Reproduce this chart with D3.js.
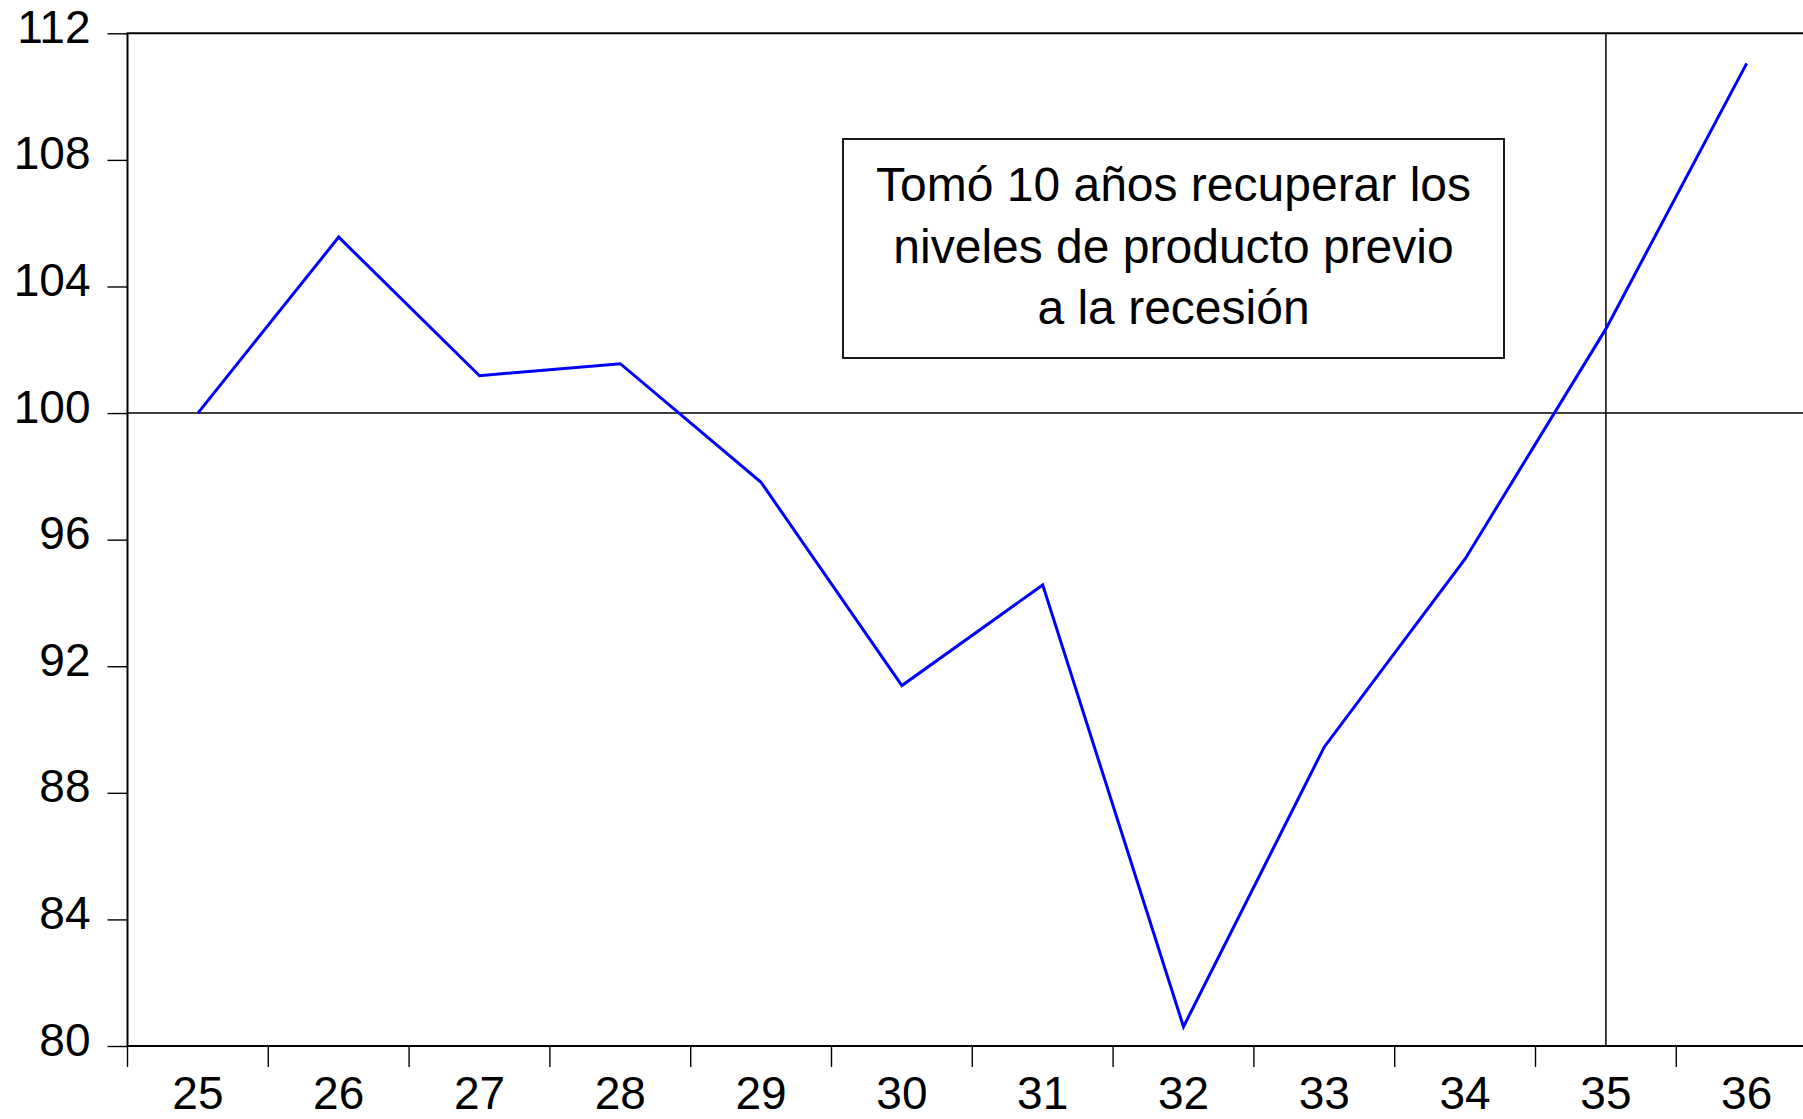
<!DOCTYPE html>
<html>
<head>
<meta charset="utf-8">
<script src="https://cdn.jsdelivr.net/npm/d3@7"></script>
<style>
  html, body { margin: 0; padding: 0; background: #fff; }
  svg { display: block; font-family: "Liberation Sans", Arial, sans-serif; }
</style>
</head>
<body>
<div id="chart"></div>
<script>
const years = ["25", "26", "27", "28", "29", "30", "31", "32", "33", "34", "35", "36"];
const producto = [100, 105.56, 101.18, 101.56, 97.81, 91.39, 94.57, 80.61, 89.45, 95.39, 102.66, 111.05];
const yTicks = [80, 84, 88, 92, 96, 100, 104, 108, 112];
const noteLines = ["Tomó 10 años recuperar los", "niveles de producto previo", "a la recesión"];
const refLevel = 100;
const refYear = "35";

const width = 1803, height = 1119;
const plotLeft = 127.5, plotTop = 33.3, plotBottom = 1046, step = 140.8;

const svg = d3.select("#chart").append("svg")
    .attr("width", width)
    .attr("height", height);

const x = d3.scaleBand()
    .domain(years)
    .range([plotLeft, plotLeft + years.length * step])
    .padding(0);

const y = d3.scaleLinear()
    .domain([80, 112])
    .range([plotBottom, plotTop]);

// y axis
const yAxis = svg.append("g")
    .attr("transform", `translate(${plotLeft},0)`)
    .call(d3.axisLeft(y).tickValues(yTicks).tickSize(20).tickPadding(17).tickSizeOuter(0));
yAxis.select(".domain").remove();
yAxis.selectAll(".tick line").attr("stroke", "#000").attr("stroke-width", 1.4);
yAxis.selectAll(".tick text")
    .attr("font-size", 46)
    .attr("fill", "#000")
    .attr("dy", 0)
    .attr("y", 9)
    .attr("font-family", "Liberation Sans, Arial, sans-serif");

// x axis labels
const xAxis = svg.append("g")
    .attr("transform", `translate(0,${plotBottom})`)
    .call(d3.axisBottom(x).tickSize(0).tickPadding(0).tickSizeOuter(0));
xAxis.select(".domain").remove();
xAxis.selectAll(".tick line").remove();
xAxis.selectAll(".tick text")
    .attr("font-size", 46)
    .attr("fill", "#000")
    .attr("dy", 0)
    .attr("y", 63)
    .attr("font-family", "Liberation Sans, Arial, sans-serif");

// x boundary ticks
svg.append("g").selectAll("line")
    .data(years)
    .enter()
    .append("line")
    .attr("x1", d => x(d))
    .attr("x2", d => x(d))
    .attr("y1", plotBottom)
    .attr("y2", plotBottom + 21)
    .attr("stroke", "#000")
    .attr("stroke-width", 1.4);

// reference lines
svg.append("line")
    .attr("x1", plotLeft).attr("x2", width)
    .attr("y1", y(refLevel)).attr("y2", y(refLevel))
    .attr("stroke", "#000").attr("stroke-width", 1.5);

svg.append("line")
    .attr("x1", x(refYear) + x.bandwidth() / 2).attr("x2", x(refYear) + x.bandwidth() / 2)
    .attr("y1", plotTop).attr("y2", plotBottom)
    .attr("stroke", "#000").attr("stroke-width", 1.5);

// frame
svg.append("path")
    .attr("d", `M${plotLeft},${plotBottom}V${plotTop}H${width}M${plotLeft},${plotBottom}H${width}`)
    .attr("fill", "none")
    .attr("stroke", "#000")
    .attr("stroke-width", 2);

// series
const line = d3.line()
    .x((d, i) => x(years[i]) + x.bandwidth() / 2)
    .y(d => y(d));

svg.append("path")
    .datum(producto)
    .attr("d", line)
    .attr("fill", "none")
    .attr("stroke", "#0000ff")
    .attr("stroke-width", 3)
    .attr("stroke-linejoin", "miter");

// annotation box
const box = { x: 843, y: 139, w: 661, h: 219 };
svg.append("rect")
    .attr("x", box.x).attr("y", box.y)
    .attr("width", box.w).attr("height", box.h)
    .attr("fill", "#fff")
    .attr("stroke", "#000")
    .attr("stroke-width", 1.8);

svg.append("g").selectAll("text")
    .data(noteLines)
    .enter()
    .append("text")
    .attr("x", box.x + box.w / 2)
    .attr("y", (d, i) => 201 + i * 61.5)
    .attr("text-anchor", "middle")
    .attr("font-size", 48)
    .attr("fill", "#000")
    .text(d => d);
</script>
</body>
</html>
